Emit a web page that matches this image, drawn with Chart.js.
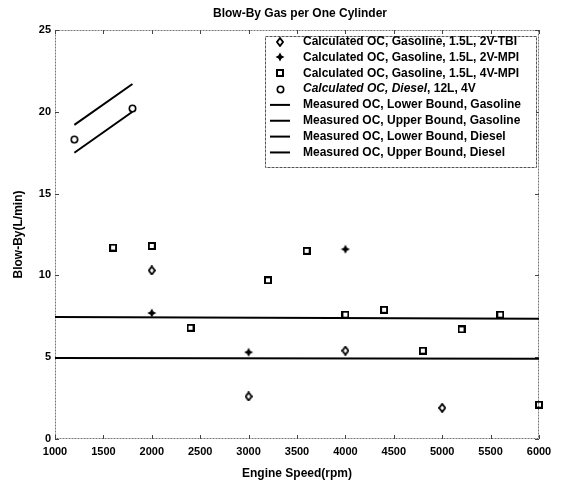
<!DOCTYPE html>
<html>
<head>
<meta charset="utf-8">
<script src="https://cdn.jsdelivr.net/npm/chart.js@4"></script>
<style>
  html, body { margin: 0; padding: 0; background: #fff; }
</style>
</head>
<body>
<canvas id="blowBy" width="562" height="486"></canvas>
<script>
// values
const tbiRpm = [2000, 3000, 4000, 5000];
const tbiFlow = [10.3, 2.6, 5.4, 1.9];
const mpi2Rpm = [2000, 3000, 4000];
const mpi2Flow = [7.7, 5.3, 11.6];
const mpi4Rpm = [1600, 2000, 2400, 3200, 3600, 4000, 4400, 4800, 5200, 5600, 6000];
const mpi4Flow = [11.7, 11.8, 6.8, 9.7, 11.5, 7.6, 7.9, 5.4, 6.7, 7.6, 2.1];
const dieselRpm = [1200, 1800];
const dieselFlow = [18.3, 20.2];

const gasBoundRpm = [1000, 6000];
const gasLower = [4.95, 4.9];
const gasUpper = [7.45, 7.35];
const dieselBoundRpm = [1200, 1800];
const dieselLower = [17.5, 20.0];
const dieselUpper = [19.2, 21.7];

const xTicks = [1000, 1500, 2000, 2500, 3000, 3500, 4000, 4500, 5000, 5500, 6000];
const yTicks = [0, 5, 10, 15, 20, 25];

const labels = [
    'Calculated OC, Gasoline, 1.5L, 2V-TBI',
    'Calculated OC, Gasoline, 1.5L, 2V-MPI',
    'Calculated OC, Gasoline, 1.5L, 4V-MPI',
    'Calculated OC, Diesel, 12L, 4V',
    'Measured OC, Lower Bound, Gasoline',
    'Measured OC, Upper Bound, Gasoline',
    'Measured OC, Lower Bound, Diesel',
    'Measured OC, Upper Bound, Diesel'
];

function pts(xs, ys) {
    return xs.map((x, i) => ({ x: x, y: ys[i] }));
}

// small marker images
function marker(w, h, draw) {
    const c = document.createElement('canvas');
    c.width = w;
    c.height = h;
    const g = c.getContext('2d');
    g.strokeStyle = '#000';
    g.fillStyle = '#000';
    draw(g);
    return c;
}
const openDiamond = marker(8, 10, g => {
    g.lineWidth = 1.8;
    g.beginPath();
    g.moveTo(4, 1); g.lineTo(7, 5); g.lineTo(4, 9); g.lineTo(1, 5);
    g.closePath();
    g.stroke();
});
const filledStar = marker(10, 10, g => {
    g.beginPath();
    g.moveTo(5, 0.5); g.lineTo(6.6, 3.4); g.lineTo(9.5, 5); g.lineTo(6.6, 6.6);
    g.lineTo(5, 9.5); g.lineTo(3.4, 6.6); g.lineTo(0.5, 5); g.lineTo(3.4, 3.4);
    g.closePath();
    g.fill();
});
const openSquare = marker(8, 8, g => {
    g.lineWidth = 2;
    g.strokeRect(1, 1, 6, 6);
});
const openCircle = marker(9, 9, g => {
    g.lineWidth = 1.6;
    g.beginPath();
    g.arc(4.5, 4.5, 3.2, 0, Math.PI * 2);
    g.stroke();
});
const markers = [openDiamond, filledStar, openSquare, openCircle];

const FONT = '"Liberation Sans", Arial, sans-serif';

// frame, inner ticks, title and the in-plot legend
const decorations = {
    id: 'decorations',
    beforeDatasetsDraw(chart) {
        const ctx = chart.ctx;
        const a = chart.chartArea;
        ctx.save();
        ctx.strokeStyle = '#777';
        ctx.lineWidth = 1;
        ctx.setLineDash([2, 1]);
        ctx.strokeRect(a.left + 0.5, a.top + 0.5, a.right - a.left - 1, a.bottom - a.top - 1);
        ctx.setLineDash([]);
        ctx.strokeStyle = '#444';
        const xs = chart.scales.x, ys = chart.scales.y;
        xTicks.forEach(v => {
            const px = Math.round(xs.getPixelForValue(v)) + 0.5;
            ctx.beginPath();
            ctx.moveTo(px, a.bottom); ctx.lineTo(px, a.bottom - 4);
            ctx.moveTo(px, a.top); ctx.lineTo(px, a.top + 4);
            ctx.stroke();
        });
        yTicks.forEach(v => {
            const py = Math.round(ys.getPixelForValue(v)) + 0.5;
            ctx.beginPath();
            ctx.moveTo(a.left, py); ctx.lineTo(a.left + 4, py);
            ctx.moveTo(a.right, py); ctx.lineTo(a.right - 4, py);
            ctx.stroke();
        });
        ctx.restore();
    },
    afterDraw(chart) {
        const ctx = chart.ctx;
        const a = chart.chartArea;
        ctx.save();
        ctx.fillStyle = '#000';
        ctx.font = 'bold 12px ' + FONT;
        ctx.textAlign = 'center';
        ctx.textBaseline = 'middle';
        ctx.fillText('Blow-By Gas per One Cylinder', (a.left + a.right) / 2 + 3, 14);

        // legend box
        const bx = a.left + 210, by = a.top + 6, bw = 271, bh = 131;
        ctx.fillStyle = '#fff';
        ctx.fillRect(bx, by, bw, bh);
        ctx.strokeStyle = '#555';
        ctx.lineWidth = 1;
        ctx.setLineDash([3, 1]);
        ctx.strokeRect(bx + 0.5, by + 0.5, bw, bh);
        ctx.setLineDash([]);

        ctx.textAlign = 'left';
        chart.data.datasets.forEach((ds, i) => {
            const cy = by + 5.5 + i * 15.85;
            const sx = bx + 15;
            if (i < markers.length) {
                const m = markers[i];
                ctx.drawImage(m, Math.round(sx - m.width / 2), Math.round(cy - m.height / 2));
            } else {
                ctx.strokeStyle = '#000';
                ctx.lineWidth = 2;
                ctx.beginPath();
                ctx.moveTo(sx - 10, cy); ctx.lineTo(sx + 10, cy);
                ctx.stroke();
            }
            ctx.fillStyle = '#000';
            const tx = bx + 38;
            if (ds.label.indexOf('Calculated OC, Diesel') === 0) {
                const head = 'Calculated OC, Diesel';
                ctx.font = 'italic bold 12px ' + FONT;
                ctx.fillText(head, tx, cy);
                const wHead = ctx.measureText(head).width;
                ctx.font = 'bold 12px ' + FONT;
                ctx.fillText(ds.label.slice(head.length), tx + wHead, cy);
            } else {
                ctx.font = 'bold 12px ' + FONT;
                ctx.fillText(ds.label, tx, cy);
            }
        });
        ctx.restore();
    }
};

function pointSet(i, xs, ys) {
    return {
        label: labels[i],
        data: pts(xs, ys),
        pointStyle: markers[i],
        pointRadius: 4,
        showLine: false,
        clip: false
    };
}
function lineSet(i, xs, ys) {
    return {
        label: labels[i],
        data: pts(xs, ys),
        showLine: true,
        borderColor: '#000',
        borderWidth: 2,
        pointRadius: 0,
        fill: false
    };
}

new Chart(document.getElementById('blowBy').getContext('2d'), {
    type: 'scatter',
    data: {
        datasets: [
            pointSet(0, tbiRpm, tbiFlow),
            pointSet(1, mpi2Rpm, mpi2Flow),
            pointSet(2, mpi4Rpm, mpi4Flow),
            pointSet(3, dieselRpm, dieselFlow),
            lineSet(4, gasBoundRpm, gasLower),
            lineSet(5, gasBoundRpm, gasUpper),
            lineSet(6, dieselBoundRpm, dieselLower),
            lineSet(7, dieselBoundRpm, dieselUpper)
        ]
    },
    options: {
        responsive: false,
        animation: false,
        devicePixelRatio: 1,
        layout: { padding: { left: 0, right: 23, top: 30, bottom: 0 } },
        plugins: {
            legend: { display: false },
            tooltip: { enabled: false },
            title: { display: false }
        },
        scales: {
            x: {
                type: 'linear',
                min: 1000,
                max: 6000,
                afterBuildTicks: s => { s.ticks = xTicks.map(v => ({ value: v })); },
                afterFit: s => { s.height = 47; },
                grid: { display: false, drawTicks: false },
                border: { display: false },
                ticks: {
                    color: '#000',
                    padding: 6,
                    maxRotation: 0,
                    callback: v => String(v),
                    font: { family: FONT, size: 11, weight: 'bold' }
                },
                title: {
                    display: true,
                    text: 'Engine Speed(rpm)',
                    color: '#000',
                    padding: { top: 0, bottom: 5 },
                    font: { family: FONT, size: 12, weight: 'bold' }
                }
            },
            y: {
                type: 'linear',
                min: 0,
                max: 25,
                afterBuildTicks: s => { s.ticks = yTicks.map(v => ({ value: v })); },
                afterFit: s => { s.width = 55; },
                grid: { display: false, drawTicks: false },
                border: { display: false },
                ticks: {
                    color: '#000',
                    padding: 4,
                    callback: v => String(v),
                    font: { family: FONT, size: 11, weight: 'bold' }
                },
                title: {
                    display: true,
                    text: 'Blow-By(L/min)',
                    color: '#000',
                    padding: { top: 11, bottom: 0 },
                    font: { family: FONT, size: 12, weight: 'bold' }
                }
            }
        }
    },
    plugins: [decorations]
});
</script>
</body>
</html>
